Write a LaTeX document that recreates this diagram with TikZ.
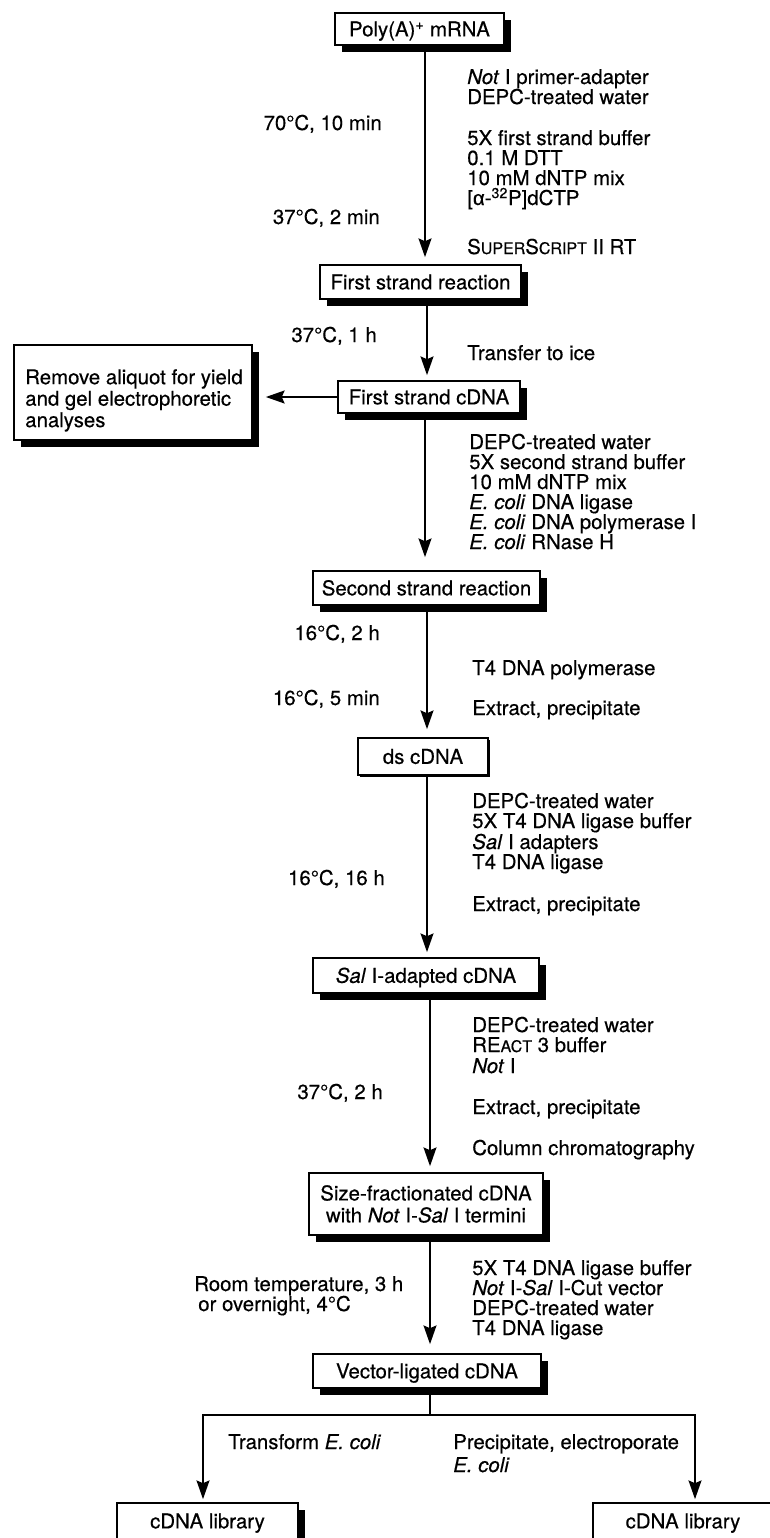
\documentclass[tikz,border=0pt]{standalone}
\usepackage{fontspec}
\setmainfont{TeX Gyre Heros}[FakeBold=0.4]
\newfontfamily\grk{Liberation Sans}[FakeBold=0.4]
\usetikzlibrary{arrows.meta,shadows}
\newcommand\fs{\fontsize{15.3}{15}\selectfont}
\newcommand\smc[1]{{\fontsize{12}{12}\selectfont #1}}

\begin{document}
\begin{tikzpicture}[x=0.75pt,y=-0.75pt,
  ln/.style={line width=2.2pt},
  arr/.style={ln,-{Stealth[length=14pt,width=9.5pt,inset=2pt]}},
  wh/.style 2 args={minimum width=#1*0.75pt,minimum height=#2*0.75pt},
  boxcore/.style={draw,line width=1.1pt,fill=white,inner sep=0pt,font=\fs},
  box/.style={boxcore,text height=11pt,text depth=0pt},
  shadow/.style={drop shadow={shadow xshift=5.25pt,shadow yshift=-5.25pt,opacity=1,fill=black}},
  thinshadow/.style={drop shadow={shadow xshift=1.2pt,shadow yshift=-1.2pt,opacity=1,fill=black}},
  shbox/.style={box,shadow},
  lbl/.style={inner sep=0pt,font=\fs},
  rt/.style={lbl,anchor=base west},
  lt/.style={lbl,anchor=base east}]

% page
\fill[white] (0,0) rectangle (769,1538);
\useasboundingbox (0,0) rectangle (769,1538);

% spine positions
\coordinate (sp1) at (425,0);
\coordinate (sp2) at (427,0);
\coordinate (sp3) at (425,0);
\coordinate (sp4) at (427,0);
\coordinate (sp5) at (427,0);
\coordinate (sp6) at (430,0);
\coordinate (sp7) at (430,0);
\coordinate (jL) at (203,1415);
\coordinate (jR) at (695,1415);

% boxes
\node[shbox,wh={169}{32}] (poly) at (419.5,29) {Poly(A)\textsuperscript{+} mRNA};
\node[shbox,wh={201}{34}] (fsr) at (420.5,282) {First strand reaction};
\node[shbox,wh={182}{32}] (fsc) at (429,397) {First strand cDNA};
\node[boxcore,shadow,wh={238}{95}] (aliq) at (133,392.5) {};
\node[lbl,align=left,anchor=north west,font=\fontsize{15.3}{16.1}\selectfont] (aliqtxt) at (25,369)
  {Remove aliquot for yield\\and gel electrophoretic\\analyses};
\node[shbox,wh={227}{34}] (ssr) at (426.5,588) {Second strand reaction};
\node[box,thinshadow,wh={130}{37}] (ds) at (423,756.5) {ds cDNA};
\node[shbox,wh={226}{35}] (sal) at (426,975.5) {\textit{Sal} I-adapted cDNA};
\node[boxcore,shadow,wh={234}{62},align=center,font=\fontsize{15.3}{16.5}\selectfont] (size) at (426,1204)
  {Size-fractionated cDNA\\with \textit{Not} I-\textit{Sal} I termini};
\node[shbox,wh={228}{34}] (vec) at (427,1371) {Vector-ligated cDNA};
\node[shbox,wh={181}{36}] (libL) at (207.5,1521) {cDNA library};
\node[shbox,wh={180}{36}] (libR) at (683,1521) {cDNA library};

% connectors
\draw[arr,shorten >=5.25pt] (poly.south -| sp1) -- (fsr.north -| sp1);
\draw[arr,shorten >=3.75pt] (fsr.south -| sp2) -- (fsc.north -| sp2);
\draw[arr,shorten >=9.75pt] (fsc.west) -- (aliq.east |- fsc.west);
\draw[arr,shorten >=9.75pt] (fsc.south -| sp3) -- (ssr.north -| sp3);
\draw[arr,shorten >=6pt] (ssr.south -| sp4) -- (ds.north -| sp4);
\draw[arr,shorten >=3.75pt] (ds.south -| sp5) -- (sal.north -| sp5);
\draw[arr,shorten >=4.5pt] (sal.south -| sp6) -- (size.north -| sp6);
\draw[arr,shorten >=6.75pt] (size.south -| sp7) -- (vec.north -| sp7);
\draw[ln] (vec.south -| sp7) -- (sp7 |- jL);
\draw[arr,shorten >=2.25pt] (sp7 |- jL) -| (libL.north -| jL);
\draw[arr,shorten >=2.25pt] (sp7 |- jR) -| (libR.north -| jR);

% step 1
\node[rt] (r1a) at (467,84) {\textit{Not} I primer-adapter};
\node[rt] (r1b) at (467,104) {DEPC-treated water};
\node[rt] (r1c) at (467,145) {5X first strand buffer};
\node[rt] (r1d) at (467,165) {0.1 M DTT};
\node[rt] (r1e) at (467,185) {10 mM dNTP mix};
\node[rt] (r1f) at (467,205) {[{\grk α}-\textsuperscript{32}P]dCTP};
\node[rt] (r1g) at (467,254) {S\smc{UPER}S\smc{CRIPT} II RT};
\node[lt] (l1a) at (382,130) {70°C, 10 min};
\node[lt] (l1b) at (380,224) {37°C, 2 min};

% step 2
\node[lt] (l2) at (377,342) {37°C, 1 h};
\node[rt] (r2) at (467,360) {Transfer to ice};

% step 3
\node[rt] (r3a) at (469,449) {DEPC-treated water};
\node[rt] (r3b) at (469,469) {5X second strand buffer};
\node[rt] (r3c) at (469,489) {10 mM dNTP mix};
\node[rt] (r3d) at (469,509) {\textit{E. coli} DNA ligase};
\node[rt] (r3e) at (469,529) {\textit{E. coli} DNA polymerase I};
\node[rt] (r3f) at (469,549) {\textit{E. coli} RNase H};

% step 4
\node[lt] (l4a) at (380,640) {16°C, 2 h};
\node[rt] (r4a) at (472,675) {T4 DNA polymerase};
\node[lt] (l4b) at (380,705) {16°C, 5 min};
\node[rt] (r4b) at (472,715) {Extract, precipitate};

% step 5
\node[rt] (r5a) at (472,808) {DEPC-treated water};
\node[rt] (r5b) at (472,828) {5X T4 DNA ligase buffer};
\node[rt] (r5c) at (472,849) {\textit{Sal} I adapters};
\node[rt] (r5d) at (472,869) {T4 DNA ligase};
\node[lt] (l5) at (385,885) {16°C, 16 h};
\node[rt] (r5e) at (472,911) {Extract, precipitate};

% step 6
\node[rt] (r6a) at (472,1032) {DEPC-treated water};
\node[rt] (r6b) at (472,1052) {RE\smc{ACT} 3 buffer};
\node[rt] (r6c) at (472,1073) {\textit{Not} I};
\node[lt] (l6) at (383,1099) {37°C, 2 h};
\node[rt] (r6d) at (472,1114) {Extract, precipitate};
\node[rt] (r6e) at (472,1155) {Column chromatography};

% step 7
\node[rt] (r7a) at (472,1275) {5X T4 DNA ligase buffer};
\node[rt] (r7b) at (472,1295) {\textit{Not} I-\textit{Sal} I-Cut vector};
\node[rt] (r7c) at (472,1315) {DEPC-treated water};
\node[rt] (r7d) at (472,1335) {T4 DNA ligase};
\node[rt] (l7a) at (194,1291) {Room temperature, 3 h};
\node[rt] (l7b) at (198,1311) {or overnight, 4°C};

% step 8
\node[rt] (b1) at (228,1449) {Transform \textit{E. coli}};
\node[rt] (b2) at (453,1449) {Precipitate, electroporate};
\node[rt] (b3) at (453,1472) {\textit{E. coli}};
\end{tikzpicture}
\end{document}
